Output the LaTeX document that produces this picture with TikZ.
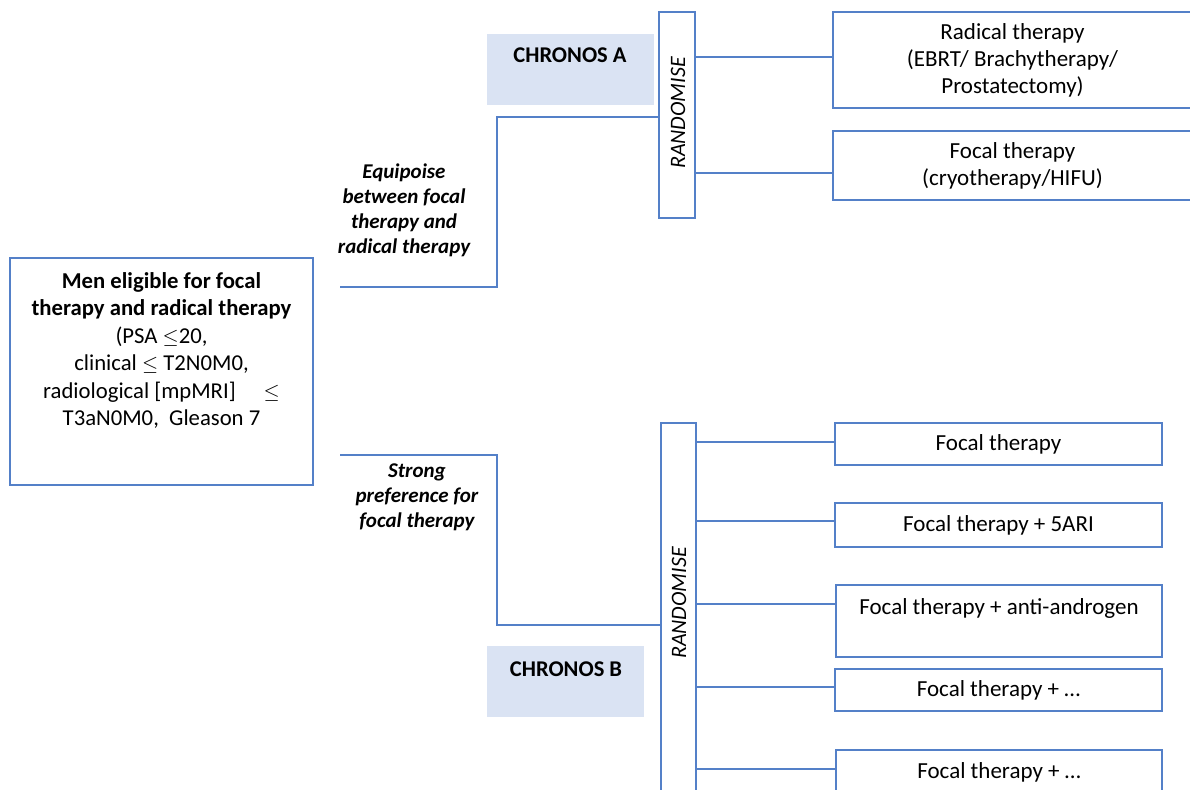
\documentclass[tikz,border=0pt]{standalone}
\usepackage{fontspec}
\setmainfont{Carlito}

\definecolor{lineblue}{RGB}{84,128,200}
\definecolor{chronfill}{RGB}{218,227,243}

\tikzset{
  tbox/.style={draw=lineblue, line width=1.2pt, inner sep=0pt, align=center,
    font=\fontsize{23}{27}\selectfont},
  chron/.style={fill=chronfill, inner sep=0pt},
  link/.style={draw=lineblue, line width=1.2pt},
  armtext/.style={align=center, font=\bfseries\itshape\fontsize{21}{25}\selectfont},
  randtext/.style={rotate=90, font=\itshape\fontsize{22}{24}\selectfont}
}

\begin{document}
\begin{tikzpicture}[x=1pt,y=-1pt]
  \useasboundingbox (0,0) rectangle (1190,789);

  % entry box
  \node (men) [tbox, minimum width=303pt, minimum height=227pt] at (161.5,371.5) {};
  \node (mentext) [align=center, font=\fontsize{22.7}{27.5}\selectfont] at (161.5,350.5)
    {\textbf{Men eligible for focal}\\ \textbf{therapy and radical therapy}\\
     (PSA $\le$20,\\ clinical $\le$ T2N0M0,\\ radiological [mpMRI]\quad\ $\le$\\
     T3aN0M0,\ \ Gleason 7};

  % arm labels
  \node (equi) [armtext] at (404,210) {Equipoise\\ between focal\\ therapy and\\ radical therapy};
  \node (pref) [armtext] at (417,497) {Strong\\ preference for\\ focal therapy};

  % study names
  \node (chronA) [chron, minimum width=167pt, minimum height=71pt] at (570.5,69.5) {};
  \node (chronAtext) [font=\bfseries\fontsize{22.5}{26}\selectfont] at (570,55) {CHRONOS A};
  \node (chronB) [chron, minimum width=157pt, minimum height=71pt] at (565.5,681.5) {};
  \node (chronBtext) [font=\bfseries\fontsize{22.5}{26}\selectfont] at (566,669) {CHRONOS B};

  % randomisation bars
  \node (randA) [tbox, minimum width=36pt, minimum height=206pt] at (677,115) {};
  \node (randAtext) [randtext] at (678,113) {RANDOMISE};
  \node (randB) [tbox, minimum width=35pt, minimum height=377pt] at (678.5,611.5) {};
  \node (randBtext) [randtext] at (679,603) {RANDOMISE};

  % chronos a arms
  \node (radical) [tbox, minimum width=359pt, minimum height=96pt] at (1012.5,60)
    {Radical therapy\\ (EBRT/ Brachytherapy/\\ Prostatectomy)};
  \node (focalA) [tbox, minimum width=359pt, minimum height=69pt] at (1012.5,165.5)
    {Focal therapy\\ (cryotherapy/HIFU)};

  % chronos b arms
  \node (ftB1) [tbox, minimum width=327pt, minimum height=42pt] at (998.5,444) {Focal therapy};
  \node (ftB2) [tbox, minimum width=327pt, minimum height=44pt] at (998.5,525) {Focal therapy + 5ARI};
  \node (ftB3) [tbox, minimum width=326pt, minimum height=72pt] at (999,621) {};
  \node (ftB3text) [font=\fontsize{23}{27}\selectfont] at (999,608) {Focal therapy + anti-androgen};
  \node (ftB4) [tbox, minimum width=327pt, minimum height=42pt] at (998.5,690) {Focal therapy + \dots};
  \node (ftB5) [tbox, minimum width=326pt, minimum height=50pt] at (999,775) {};
  \node (ftB5text) [font=\fontsize{23}{27}\selectfont] at (999,772) {Focal therapy + \dots};

  % connectors
  \coordinate (eqstart) at (340,287);
  \coordinate (eqcorner) at (497,117);
  \draw [link] (eqstart) -| (eqcorner) -- (randA.west |- eqcorner);
  \coordinate (prstart) at (340,455);
  \coordinate (prcorner) at (497,625);
  \draw [link] (prstart) -| (prcorner) -- (randB.west |- prcorner);

  \coordinate (a1) at (0,57);
  \coordinate (a2) at (0,173);
  \draw [link] (randA.east |- a1) -- (radical.west |- a1);
  \draw [link] (randA.east |- a2) -- (focalA.west |- a2);

  \coordinate (b1) at (0,442);
  \coordinate (b2) at (0,521);
  \coordinate (b3) at (0,604);
  \coordinate (b4) at (0,687);
  \coordinate (b5) at (0,769);
  \draw [link] (randB.east |- b1) -- (ftB1.west |- b1);
  \draw [link] (randB.east |- b2) -- (ftB2.west |- b2);
  \draw [link] (randB.east |- b3) -- (ftB3.west |- b3);
  \draw [link] (randB.east |- b4) -- (ftB4.west |- b4);
  \draw [link] (randB.east |- b5) -- (ftB5.west |- b5);
\end{tikzpicture}
\end{document}
